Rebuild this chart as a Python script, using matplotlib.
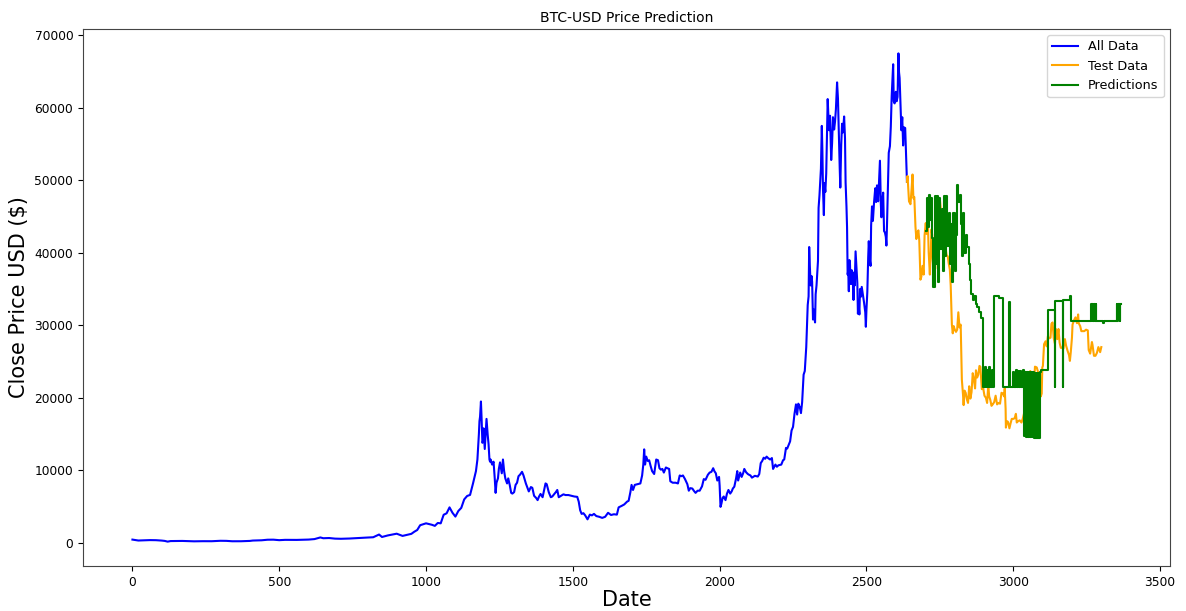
import matplotlib
matplotlib.use("Agg")
import matplotlib.pyplot as plt
import numpy as np

# Daily close history (index = days since first record), sampled at turning points
all_idx = [
    0, 20, 40, 60, 80, 100, 110, 120, 130, 150, 170, 190, 210, 240, 270, 300, 320, 340, 370, 400,
    410, 440, 460, 480, 500, 520, 560, 600, 620, 640, 650, 670, 690, 710, 740, 770, 800, 820, 840, 850,
    870, 900, 920, 950, 960, 970, 980, 1000, 1020, 1030, 1040, 1050, 1060, 1070, 1080, 1090, 1100, 1110, 1120, 1130,
    1140, 1150, 1160, 1170, 1175, 1180, 1182, 1184, 1187, 1189, 1192, 1194, 1196, 1200, 1203, 1206, 1210, 1213, 1216, 1218,
    1220, 1225, 1230, 1234, 1237, 1240, 1245, 1248, 1252, 1258, 1262, 1266, 1270, 1276, 1280, 1285, 1290, 1294, 1300, 1305,
    1310, 1315, 1320, 1327, 1332, 1340, 1350, 1357, 1362, 1368, 1375, 1380, 1385, 1390, 1397, 1403, 1407, 1411, 1418, 1425,
    1430, 1436, 1442, 1447, 1452, 1460, 1468, 1475, 1485, 1495, 1505, 1515, 1520, 1525, 1530, 1536, 1542, 1550, 1558, 1565,
    1572, 1580, 1590, 1600, 1610, 1620, 1630, 1640, 1650, 1656, 1666, 1675, 1685, 1690, 1696, 1700, 1705, 1711, 1720, 1730,
    1736, 1740, 1743, 1746, 1750, 1755, 1760, 1765, 1770, 1777, 1784, 1790, 1795, 1800, 1805, 1810, 1817, 1822, 1828, 1832,
    1840, 1850, 1858, 1864, 1870, 1875, 1882, 1890, 1895, 1900, 1907, 1912, 1918, 1925, 1932, 1940, 1946, 1952, 1960, 1966,
    1972, 1978, 1982, 1987, 1992, 1998, 2000, 2003, 2006, 2010, 2014, 2020, 2025, 2030, 2036, 2041, 2045, 2050, 2056, 2060,
    2063, 2070, 2075, 2080, 2084, 2090, 2096, 2100, 2105, 2110, 2120, 2130, 2135, 2140, 2145, 2150, 2155, 2160, 2165, 2172,
    2178, 2182, 2190, 2195, 2200, 2210, 2216, 2220, 2226, 2230, 2236, 2240, 2245, 2250, 2255, 2260, 2264, 2268, 2273, 2277,
    2281, 2286, 2290, 2295, 2300, 2303, 2305, 2307, 2310, 2313, 2315, 2318, 2320, 2325, 2327, 2330, 2335, 2337, 2340, 2345,
    2348, 2350, 2352, 2355, 2357, 2360, 2363, 2366, 2368, 2370, 2373, 2376, 2380, 2383, 2386, 2390, 2393, 2396, 2400, 2403,
    2406, 2409, 2411, 2414, 2417, 2420, 2424, 2427, 2429, 2432, 2434, 2436, 2438, 2440, 2442, 2444, 2446, 2448, 2450, 2453,
    2456, 2458, 2460, 2463, 2466, 2469, 2471, 2473, 2476, 2478, 2480, 2484, 2488, 2492, 2496, 2498, 2500, 2503, 2506, 2508,
    2511, 2514, 2516, 2519, 2522, 2526, 2530, 2533, 2536, 2540, 2543, 2546, 2549, 2551, 2554, 2557, 2560, 2563, 2566, 2568,
    2570, 2573, 2576, 2580, 2583, 2586, 2589, 2591, 2593, 2596, 2600, 2603, 2606, 2609, 2611, 2613, 2616, 2619, 2622, 2625,
    2628, 2632, 2638,
]
all_close = [
    457, 330, 354, 387, 375, 320, 275, 178, 254, 258, 272, 248, 219, 237, 233, 292, 281, 228, 230, 275,
    325, 362, 438, 447, 378, 422, 414, 460, 527, 753, 646, 673, 591, 569, 606, 678, 740, 780, 1155, 818,
    1033, 1270, 966, 1250, 1540, 1780, 2440, 2700, 2500, 2350, 2750, 2700, 3880, 4080, 4900, 4160, 3630, 4400, 4830, 6000,
    6470, 6620, 8200, 9900, 11500, 15000, 16800, 17400, 19500, 17400, 13800, 14000, 15800, 12950, 15000, 17100, 14900, 13600, 11500, 11200,
    11500, 10800, 11200, 8900, 6900, 8300, 8900, 10200, 11100, 9600, 11500, 9900, 8900, 8200, 8900, 8000, 6900, 6800, 7000, 8000,
    8300, 9200, 9400, 9800, 9300, 8200, 7100, 7700, 7600, 6500, 6200, 5900, 6400, 6750, 6300, 7400, 8200, 8100, 7000, 6300,
    6400, 6700, 7000, 7300, 6300, 6500, 6700, 6600, 6600, 6500, 6400, 6350, 5700, 4500, 4000, 4100, 3800, 3250, 3900, 3800,
    4000, 3700, 3600, 3450, 3600, 4150, 3850, 3950, 3900, 4900, 5100, 5300, 5700, 5800, 7000, 8000, 7300, 8000, 8100, 8200,
    9300, 10800, 12900, 10800, 11900, 11300, 11400, 10600, 9900, 9500, 11500, 11400, 10300, 10100, 10200, 9700, 10400, 10300, 10200, 8500,
    8300, 8300, 8200, 9300, 9200, 9300, 8800, 8100, 7200, 7550, 7500, 7200, 6900, 7200, 7200, 7800, 8800, 8700, 9400, 9700,
    9800, 10300, 9900, 9600, 8600, 9100, 7900, 4970, 5400, 6200, 6400, 5900, 6800, 7300, 6800, 7100, 7500, 7750, 8900, 9900,
    8600, 9700, 9100, 9600, 10200, 9750, 9500, 9400, 9300, 9000, 9250, 9150, 9500, 11000, 11300, 11750, 11600, 11900, 11700, 11500,
    11700, 10200, 10800, 10500, 10700, 10800, 11400, 11500, 13100, 13000, 13600, 14000, 15500, 16000, 17800, 19100, 17700, 19200, 18700, 17900,
    19400, 23200, 23700, 27000, 32800, 34000, 40800, 38400, 35500, 36800, 36000, 30800, 32200, 30400, 34300, 35500, 38900, 46200, 47900, 51600,
    57500, 54000, 48800, 45200, 49600, 48400, 50900, 57300, 61200, 59300, 56900, 58900, 52800, 55100, 58700, 57000, 58100, 59800, 63500, 61300,
    56200, 51700, 49000, 54800, 57800, 56600, 58800, 55800, 49700, 46400, 43500, 37000, 37500, 34700, 39000, 38400, 35700, 35700, 37600, 36900,
    33500, 37300, 35500, 40200, 38100, 35800, 31600, 33000, 31500, 35000, 33900, 35300, 34200, 33100, 31800, 29800, 32100, 34600, 39400, 41600,
    39200, 38200, 43800, 46400, 44400, 47000, 48900, 47000, 49300, 47100, 50000, 52700, 46800, 44900, 47100, 48300, 43000, 42800, 42200, 41000,
    43800, 49000, 53800, 54700, 57400, 61600, 64300, 66000, 60900, 60600, 62200, 60900, 61500, 67500, 64900, 64100, 60300, 56900, 58700, 54800,
    57300, 57200, 49800,
]

# Hold-out period actually observed
test_idx = [
    2638, 2640, 2645, 2650, 2654, 2657, 2660, 2663, 2667, 2670, 2673, 2677, 2680, 2684, 2687, 2691, 2695, 2698, 2702, 2705,
    2709, 2712, 2716, 2717, 2719, 2721, 2724, 2727, 2730, 2734, 2737, 2741, 2744, 2748, 2750, 2754, 2758, 2762, 2766, 2769,
    2773, 2777, 2780, 2784, 2787, 2791, 2794, 2797, 2801, 2805, 2809, 2813, 2817, 2821, 2825, 2829, 2831, 2834, 2838, 2842,
    2846, 2850, 2854, 2858, 2862, 2866, 2870, 2873, 2877, 2881, 2885, 2888, 2893, 2897, 2902, 2907, 2911, 2915, 2918, 2922,
    2926, 2930, 2935, 2940, 2945, 2950, 2955, 2960, 2965, 2969, 2971, 2974, 2975, 2978, 2982, 2987, 2991, 2995, 3000, 3005,
    3009, 3012, 3017, 3022, 3028, 3033, 3037, 3041, 3045, 3048, 3053, 3058, 3062, 3067, 3071, 3074, 3080, 3085, 3089, 3094,
    3097, 3099, 3101, 3105, 3110, 3114, 3118, 3122, 3127, 3130, 3134, 3138, 3142, 3145, 3150, 3154, 3158, 3162, 3166, 3171,
    3176, 3180, 3185, 3190, 3193, 3196, 3200, 3202, 3207, 3212, 3217, 3221, 3223, 3228, 3232, 3237, 3242, 3248, 3254, 3257,
    3262, 3268, 3270, 3275, 3280, 3285, 3290, 3296, 3300,
]
test_close = [
    49800, 50600, 47100, 46700, 48900, 50800, 47500, 47700, 43600, 41900, 42700, 43100, 41700, 36300, 36700, 38200, 37000, 42400, 44100, 42600,
    44600, 40100, 37000, 38300, 39200, 43200, 42500, 38400, 41900, 37800, 41100, 41300, 44000, 47100, 47400, 45800, 43200, 40500, 40500, 40800,
    39700, 39500, 38600, 37700, 35500, 30100, 28900, 29900, 29400, 29100, 29400, 31800, 29700, 30100, 22500, 20400, 19000, 21000, 20700, 19800,
    19300, 21600, 19900, 20800, 23400, 22600, 21300, 23800, 22800, 23200, 24400, 24300, 21200, 21500, 20300, 20000, 19300, 21800, 20200, 19700,
    18900, 19100, 19400, 20300, 19100, 19300, 19200, 20700, 20600, 20200, 21300, 18500, 15900, 16800, 16700, 15800, 16500, 17100, 17100, 17200,
    17800, 16600, 16800, 16900, 16600, 17200, 17900, 20900, 21100, 22700, 23000, 23700, 22900, 21800, 21800, 24300, 24200, 23500, 22400, 20200,
    20600, 24200, 24400, 27400, 27800, 27100, 28500, 28200, 28300, 30200, 30400, 28200, 27500, 29500, 28100, 29500, 27600, 26900, 26900, 26800,
    28100, 27200, 26500, 25900, 25100, 26300, 28300, 30100, 30700, 31100, 30300, 31500, 30300, 29900, 29200, 29200, 29200, 29400, 29300, 26600,
    26100, 27700, 27300, 25800, 25800, 26200, 27000, 26300, 27000,
]

# Model output: index where each predicted level begins, and the level
pred_idx = [
    2702, 2705, 2709, 2712, 2716, 2719, 2724, 2728, 2732, 2737, 2740, 2744, 2748, 2752, 2756, 2760, 2764, 2768, 2772, 2776,
    2780, 2784, 2788, 2792, 2796, 2800, 2805, 2809, 2813, 2817, 2821, 2825, 2829, 2833, 2838, 2843, 2848, 2852, 2856, 2862,
    2867, 2872, 2878, 2884, 2890, 2896, 2899, 2902, 2905, 2908, 2911, 2914, 2918, 2922, 2926, 2930, 2935, 2950, 2964, 2987,
    2988, 3000, 3004, 3008, 3012, 3016, 3020, 3024, 3028, 3033, 3038, 3041, 3044, 3048, 3051, 3055, 3058, 3061, 3064, 3068,
    3072, 3076, 3079, 3083, 3086, 3090, 3094, 3117, 3141, 3143, 3168, 3170, 3194, 3198, 3265, 3267, 3269, 3272, 3275, 3278,
    3281, 3283, 3305, 3309, 3352, 3355, 3358, 3362, 3364, 3366,
]
pred_close = [
    43000, 47600, 43500, 48000, 44500, 47600, 42000, 35300, 47800, 38500, 47800, 36000, 47500, 40500, 46000, 37500, 47800, 39500, 47800, 41000,
    45500, 38500, 44000, 36000, 45500, 37500, 42500, 49400, 47000, 48000, 44000, 39500, 45500, 40000, 42500, 40800, 38500, 36200, 34300, 33500,
    34000, 33000, 32500, 31800, 31000, 21500, 23900, 21500, 24200, 21500, 23800, 21500, 24200, 21500, 23900, 21500, 34100, 33800, 21500, 33200,
    21500, 23600, 21500, 23800, 21500, 23700, 21500, 23700, 21500, 23800, 14800, 23500, 14600, 23500, 14600, 23600, 14600, 23500, 14600, 23500,
    14500, 23400, 14500, 23400, 14500, 23500, 23800, 32100, 21500, 33400, 21500, 33500, 34100, 30600, 33000, 30600, 33000, 30600, 33000, 30600,
    33000, 30600, 30300, 30600, 33000, 30600, 33000, 30600, 33000, 33000,
]

fig = plt.figure(figsize=(11.86, 6.11), dpi=100)
ax = fig.add_axes([0.070, 0.0736, 0.9166, 0.879])

ax.plot(all_idx, all_close, color="blue", lw=1.5, label="All Data")
ax.plot(test_idx, test_close, color="orange", lw=1.5, label="Test Data")
ax.plot(pred_idx, pred_close, color="green", lw=1.5, drawstyle="steps-post", label="Predictions")

ax.set_title("BTC-USD Price Prediction", fontsize=10, pad=5)
ax.set_xlabel("Date", fontsize=15, labelpad=1)
ax.set_ylabel("Close Price USD ($)", fontsize=15)
ax.tick_params(labelsize=8.8)
for sp in ax.spines.values():
    sp.set_color("#444444")
ax.legend(loc="upper right", fontsize=9.2)

fig.savefig("out.png", dpi=100)
